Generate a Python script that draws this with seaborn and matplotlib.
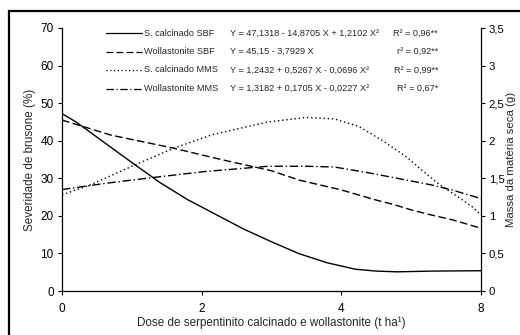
import numpy as np
import matplotlib
matplotlib.use("Agg")
import matplotlib.pyplot as plt
import seaborn as sns
from matplotlib.lines import Line2D
from matplotlib.patches import Rectangle

# ---------------- data ----------------
dose_ticks = [0, 2, 4, 8]
dose_tick_labels = ["0", "2", "4", "8"]
sev_ticks = [0, 10, 20, 30, 40, 50, 60, 70]
mass_ticks = [0, 0.5, 1, 1.5, 2, 2.5, 3, 3.5]
mass_tick_labels = ["0", "0,5", "1", "1,5", "2", "2,5", "3", "3,5"]

# S. calcinado SBF (severity, %)
calc_sbf_x = [0, 0.2, 0.6, 1.0, 1.4, 1.8, 2.2, 2.6, 3.0, 3.4, 3.8, 4.4, 5.0, 5.6, 6.6, 8.0]
calc_sbf_y = [47.2, 45.0, 39.6, 34.2, 28.9, 24.3, 20.4, 16.5, 13.1, 9.9, 7.5, 5.8, 5.3, 5.1, 5.3, 5.4]

# Wollastonite SBF (severity, %)
woll_sbf_x = [0, 0.7, 1.6, 2.3, 3.0, 3.4, 4.0, 5.0, 5.5, 6.0, 6.5, 7.2, 8.0]
woll_sbf_y = [45.5, 41.5, 38.0, 34.9, 32.0, 29.5, 26.9, 24.2, 23.0, 21.6, 20.4, 18.9, 16.7]

# S. calcinado MMS (dry mass, g)
calc_mms_x = [0, 0.4, 1.05, 1.6, 2.15, 2.95, 3.5, 3.9, 4.5, 5.15, 5.85, 6.3, 6.8, 7.35, 7.75, 8.0]
calc_mms_y = [1.28, 1.41, 1.68, 1.90, 2.08, 2.25, 2.31, 2.29, 2.19, 2.01, 1.79, 1.61, 1.42, 1.25, 1.12, 1.01]

# Wollastonite MMS (dry mass, g)
woll_mms_x = [0, 0.6, 1.3, 2.05, 2.95, 3.5, 3.9, 4.7, 5.6, 6.6, 7.2, 8.0]
woll_mms_y = [1.35, 1.43, 1.51, 1.59, 1.66, 1.66, 1.65, 1.58, 1.50, 1.41, 1.34, 1.23]

legend_names = ["S. calcinado SBF", "Wollastonite SBF", "S. calcinado MMS", "Wollastonite MMS"]
legend_eqs = ["Y = 47,1318 - 14,8705 X + 1,2102 X²",
              "Y = 45,15 - 3,7929 X",
              "Y = 1,2432 + 0,5267 X - 0,0696 X²",
              "Y = 1,3182 + 0,1705 X - 0,0227 X²"]
legend_r2 = ["R² = 0,96**", "r² = 0,92**", "R² = 0,99**", "R² = 0,67*"]

# ---------------- styling ----------------
sns.set_style("ticks")
plt.rcParams['font.family'] = ['Liberation Sans', 'DejaVu Sans']

W, H = 520, 335
fig = plt.figure(figsize=(W / 100, H / 100), dpi=100)
fig.patch.set_facecolor("white")

L, R, T, B = 62, 481, 28, 291
ax = fig.add_axes([L / W, 1 - B / H, (R - L) / W, (B - T) / H])
ax.set_facecolor("none")

styles = ["-", (0, (5.5, 2.5)), (0, (1.0, 2.0)), (0, (6, 2, 1, 2))]

sns.lineplot(x=calc_sbf_x, y=calc_sbf_y, ax=ax, color="black", linewidth=1.0, linestyle=styles[0])
sns.lineplot(x=woll_sbf_x, y=woll_sbf_y, ax=ax, color="black", linewidth=1.0, linestyle=styles[1])

def fwd(d):
    d = np.asarray(d, float)
    return np.where(d <= 4, d, 4 + (d - 4) / 2)

def inv(p):
    p = np.asarray(p, float)
    return np.where(p <= 4, p, 4 + 2 * (p - 4))

ax.set_xscale("function", functions=(fwd, inv))
ax.set_xlim(0, 8)
ax.set_ylim(0, 70)
ax.set_xticks(dose_ticks)
ax.set_xticklabels(dose_tick_labels)
ax.set_yticks(sev_ticks)
ax.set_yticklabels([str(v) for v in sev_ticks])
ax.minorticks_off()

ax2 = ax.twinx()
sns.lineplot(x=calc_mms_x, y=calc_mms_y, ax=ax2, color="black", linewidth=1.0, linestyle=styles[2])
sns.lineplot(x=woll_mms_x, y=woll_mms_y, ax=ax2, color="black", linewidth=1.0, linestyle=styles[3])
ax2.set_ylim(0, 3.5)
ax2.set_yticks(mass_ticks)
ax2.set_yticklabels(mass_tick_labels)
ax2.set_xlim(0, 8)
ax2.minorticks_off()

for s in ["top", "right"]:
    ax.spines[s].set_visible(False)
for s in ["top", "left", "bottom"]:
    ax2.spines[s].set_visible(False)
for a in (ax, ax2):
    for s in a.spines.values():
        s.set_linewidth(0.9)
        s.set_color("black")

ax.tick_params(axis="both", direction="out", length=3, width=0.8, labelsize=8.5, pad=3, colors="black")
ax.tick_params(axis="x", pad=6)
ax2.tick_params(axis="y", direction="out", length=3, width=0.8, labelsize=8.2, pad=2.5, colors="black")

ax.set_xlabel("Dose de serpentinito calcinado e wollastonite (t ha¹)", fontsize=8.4, labelpad=1)
ax.set_ylabel("Severidade de brusone (%)", fontsize=8.4, labelpad=3)
ax2.set_ylabel("Massa da matéria seca (g)", fontsize=8.2, labelpad=1)

# ---------------- legend block ----------------
rows_y = [33, 51.5, 70, 88.5]
leg_fs = 6.6
for i in range(4):
    yy = 1 - rows_y[i] / H
    fig.add_artist(Line2D([106 / W, 142 / W], [yy, yy], transform=fig.transFigure,
                          color="black", linewidth=0.9, linestyle=styles[i]))
    fig.text(144 / W, yy, legend_names[i], fontsize=leg_fs, ha="left", va="center")
    fig.text(230 / W, yy, legend_eqs[i], fontsize=leg_fs, ha="left", va="center")
    fig.text(438 / W, yy, legend_r2[i], fontsize=leg_fs, ha="right", va="center")

# figure frame (left and top edges visible in the reference)
fig.add_artist(Rectangle((9 / W, -0.05), 1.2, (1 - 11 / H) + 0.05, transform=fig.transFigure,
                         fill=False, edgecolor="black", linewidth=1.6))

fig.savefig("out.png", dpi=100)
